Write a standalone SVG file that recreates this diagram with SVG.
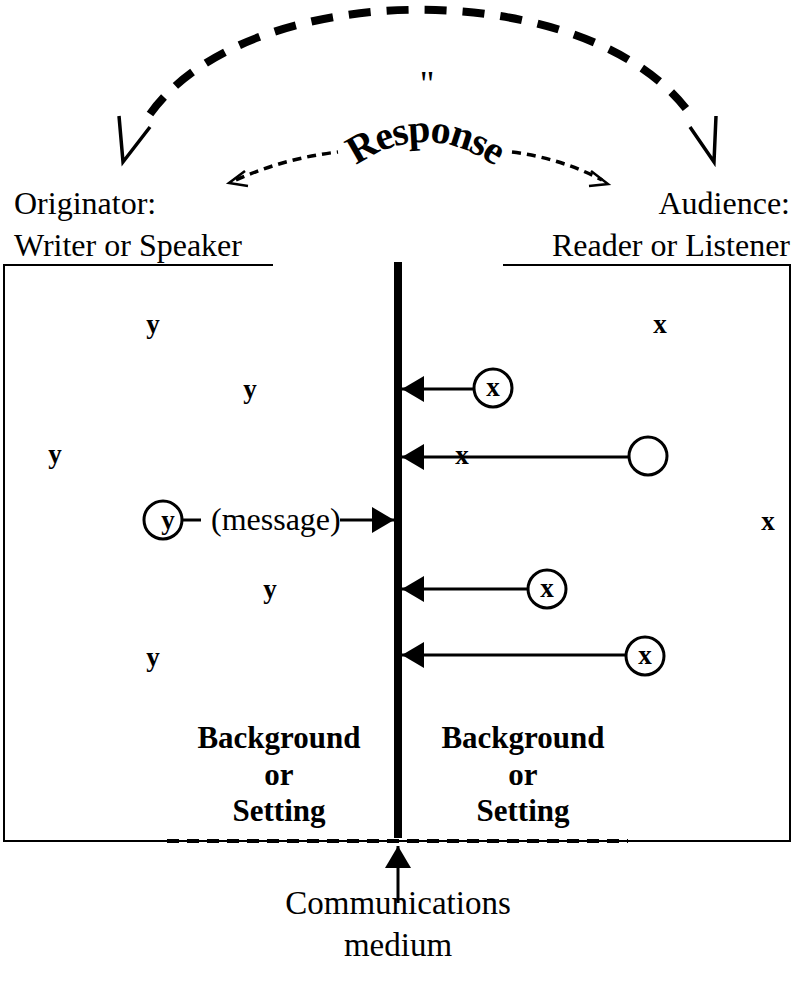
<svg xmlns="http://www.w3.org/2000/svg" width="793" height="988" viewBox="0 0 793 988">
<style>
.reg{font-family:"Liberation Serif",serif;font-size:32px;fill:#000}
.bold{font-family:"Liberation Serif",serif;font-weight:bold;font-size:31px;fill:#000}
.var{font-family:"Liberation Serif",serif;font-weight:bold;font-size:27px;fill:#000}
.thin{fill:none;stroke:#000;stroke-width:2}
.conn{fill:none;stroke:#000;stroke-width:3}
.circ{fill:#fff;stroke:#000;stroke-width:3}
</style>
<defs>
<marker id="ah" viewBox="0 0 22 26" refX="22" refY="13" markerWidth="22" markerHeight="26" markerUnits="userSpaceOnUse" orient="auto">
<path d="M0,0 L22,13 L0,26 Z" fill="#000"/>
</marker>
<path id="respArc" d="M 335 182 Q 425 102 515 182"/>
</defs>

<g id="response">
<path d="M 150 114 C 250 -25, 590 -25, 690 114" fill="none" stroke="#000" stroke-width="8" stroke-dasharray="22 16"/>
<path d="M 119 116 L 123 162 L 150 127" fill="none" stroke="#000" stroke-width="3.5"/>
<path d="M 716 116 L 714 162 L 690 127" fill="none" stroke="#000" stroke-width="3.5"/>
<text class="reg" x="427" y="96" text-anchor="middle" style="font-size:36px">"</text>
<path d="M 236 180 Q 285 158 338 152" fill="none" stroke="#000" stroke-width="3.5" stroke-dasharray="9 6"/>
<path d="M 512 152 Q 560 158 602 180" fill="none" stroke="#000" stroke-width="3.5" stroke-dasharray="9 6"/>
<path d="M 245 171 L 229 183 L 248 186" fill="none" stroke="#000" stroke-width="2.5"/>
<path d="M 591 171 L 608 184 L 589 186" fill="none" stroke="#000" stroke-width="2.5"/>
<text class="bold" style="font-size:40px" letter-spacing="-1.5"><textPath href="#respArc" startOffset="50%" text-anchor="middle">Response</textPath></text>
</g>

<g id="originator">
<text class="reg" x="14" y="214">Originator:</text>
<text class="reg" x="14" y="256">Writer or Speaker</text>
</g>
<g id="audience">
<text class="reg" x="790" y="214" text-anchor="end">Audience:</text>
<text class="reg" x="790" y="256" text-anchor="end">Reader or Listener</text>
</g>

<g id="frame">
<path class="thin" d="M 273 265 L 4 265 L 4 841 L 790 841 L 790 265 L 503 265"/>
<line x1="167" y1="841" x2="628" y2="841" stroke="#000" stroke-width="4" stroke-dasharray="12 8"/>
</g>

<g id="medium">
<rect x="394" y="262" width="8" height="576" fill="#000"/>
</g>

<g id="originator-vars">
<text class="var" x="153" y="333" text-anchor="middle">y</text>
<text class="var" x="250" y="398" text-anchor="middle">y</text>
<text class="var" x="55" y="463" text-anchor="middle">y</text>
<text class="var" x="270" y="598" text-anchor="middle">y</text>
<text class="var" x="153" y="666" text-anchor="middle">y</text>
</g>
<g id="sender">
<circle class="circ" cx="163" cy="520" r="19"/>
<text class="var" x="168" y="529" text-anchor="middle">y</text>
</g>

<g id="audience-vars">
<text class="var" x="660" y="333" text-anchor="middle">x</text>
<text class="var" x="768" y="530" text-anchor="middle">x</text>
</g>
<g id="r1"><circle class="circ" cx="493" cy="388" r="19"/><text class="var" x="493" y="396" text-anchor="middle">x</text></g>
<g id="r2"><circle class="circ" cx="648" cy="456" r="19"/></g>
<g id="r3"><circle class="circ" cx="547" cy="589" r="19"/><text class="var" x="547" y="597" text-anchor="middle">x</text></g>
<g id="r4"><circle class="circ" cx="645" cy="656" r="19"/><text class="var" x="645" y="664" text-anchor="middle">x</text></g>

<g id="connectors">
<line class="conn" x1="183" y1="520" x2="201" y2="520"/>
<line class="conn" x1="340" y1="520" x2="394" y2="520" marker-end="url(#ah)"/>
<line class="conn" x1="474" y1="389" x2="402" y2="389" marker-end="url(#ah)"/>
<line class="conn" x1="629" y1="457" x2="402" y2="457" marker-end="url(#ah)"/>
<line class="conn" x1="528" y1="589" x2="402" y2="589" marker-end="url(#ah)"/>
<line class="conn" x1="626" y1="655" x2="402" y2="655" marker-end="url(#ah)"/>
<line class="conn" x1="398" y1="903" x2="398" y2="846" marker-end="url(#ah)"/>
</g>

<text class="reg" x="211" y="530">(message)</text>
<text class="var" x="462" y="464" text-anchor="middle">x</text>

<g id="labels">
<text class="bold" x="279" y="748" text-anchor="middle">Background</text>
<text class="bold" x="279" y="785" text-anchor="middle">or</text>
<text class="bold" x="279" y="821" text-anchor="middle">Setting</text>
<text class="bold" x="523" y="748" text-anchor="middle">Background</text>
<text class="bold" x="523" y="785" text-anchor="middle">or</text>
<text class="bold" x="523" y="821" text-anchor="middle">Setting</text>
<text class="reg" x="398" y="914" text-anchor="middle" style="font-size:33px">Communications</text>
<text class="reg" x="398" y="956" text-anchor="middle" style="font-size:33px">medium</text>
</g>
</svg>
